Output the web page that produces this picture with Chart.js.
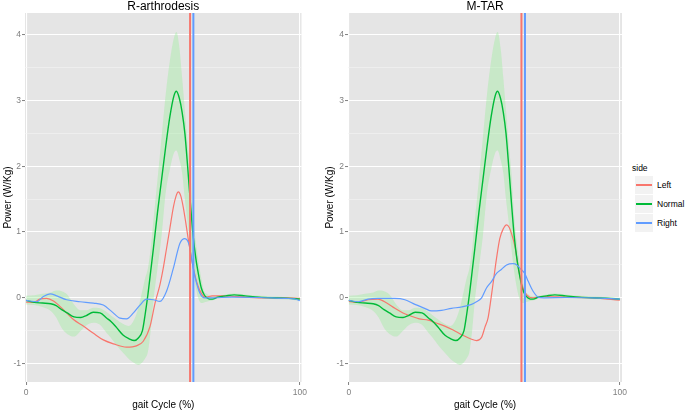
<!DOCTYPE html>
<html>
<head>
<meta charset="utf-8">
<script src="https://cdn.jsdelivr.net/npm/chart.js@4.4.1/dist/chart.umd.min.js"></script>
<style>
  html, body { margin: 0; padding: 0; background: #ffffff; }
  #wrap { position: relative; width: 685px; height: 411px; overflow: hidden; font-family: "Liberation Sans", Arial, sans-serif; }
  canvas { position: absolute; top: 0; }
  #c1 { left: 0; }
  #c2 { left: 318px; }
  .lgTitle { position: absolute; left: 632px; top: 163px; font-size: 8.5px; line-height: 10px; color: #000; }
  .lgKey { position: absolute; left: 635px; width: 18px; height: 18px; background: #F2F2F2; }
  .lgKey span { position: absolute; left: 1px; top: 8px; width: 16px; height: 2px; }
  .lgLab { position: absolute; left: 657px; font-size: 8.5px; line-height: 10px; color: #000; }
</style>
</head>
<body>
<div id="wrap">
  <canvas id="c1" width="310" height="411"></canvas>
  <canvas id="c2" width="312" height="411"></canvas>
  <div id="legend"></div>
</div>
<script>
// ---------- data ----------
const panelTitles = ['R-arthrodesis', 'M-TAR'];
const xAxisTitle = 'gait Cycle (%)';
const yAxisTitle = 'Power (W/Kg)';
const legendTitle = 'side';
const legendLabels = ['Left', 'Normal', 'Right'];
const xTicks = [0, 100];
const yMajorTicks = [-1, 0, 1, 2, 3, 4];
const yMinorTicks = [-0.5, 0.5, 1.5, 2.5, 3.5];
const yAxisMin = -1.28;
const yAxisMax = 4.33;

// Normal (shared by both panels): mean and band
const normalX = [0, 3, 6, 9, 11, 13, 15, 17.5, 20, 22, 24.5, 27, 29.5, 31, 33, 35.5, 37.5, 39.5, 41, 42.5, 43.5, 44.5, 45.5, 46.5, 48, 49.5, 51, 52.5, 54, 54.9, 56, 57, 58, 59, 60, 61, 62, 63, 64, 65, 66, 67, 68, 70, 73, 76, 80, 85, 90, 95, 100];
const normalY = [-0.04, -0.07, -0.08, -0.09, -0.12, -0.18, -0.23, -0.29, -0.30, -0.27, -0.22, -0.23, -0.31, -0.36, -0.45, -0.57, -0.62, -0.65, -0.61, -0.50, -0.25, 0.05, 0.4, 0.75, 1.3, 1.8, 2.3, 2.75, 3.07, 3.14, 3.03, 2.82, 2.5, 2.0, 1.45, 0.95, 0.6, 0.35, 0.15, 0.05, 0.0, -0.02, -0.02, 0.01, 0.03, 0.045, 0.03, 0.01, 0.0, -0.005, -0.02];
const normalUpper = [0.03, 0.04, 0.06, 0.08, 0.11, 0.10, 0.05, -0.10, -0.19, -0.19, -0.15, -0.16, -0.22, -0.27, -0.33, -0.40, -0.43, -0.33, -0.15, 0.12, 0.30, 0.45, 0.75, 1.18, 1.8, 2.45, 3.1, 3.6, 3.95, 4.04, 3.8, 3.35, 2.85, 2.35, 1.9, 1.25, 0.85, 0.55, 0.3, 0.1, 0.06, 0.03, 0.02, 0.03, 0.05, 0.065, 0.05, 0.03, 0.02, 0.01, 0.0];
const normalLower = [-0.10, -0.11, -0.14, -0.20, -0.30, -0.46, -0.55, -0.59, -0.50, -0.42, -0.38, -0.41, -0.54, -0.61, -0.72, -0.84, -0.93, -0.99, -1.02, -0.98, -0.92, -0.82, -0.50, -0.05, 0.45, 0.95, 1.6, 1.95, 2.2, 2.24, 2.1, 1.9, 1.5, 1.15, 0.75, 0.4, 0.15, -0.02, -0.08, -0.07, -0.06, -0.05, -0.04, -0.01, 0.01, 0.025, 0.01, -0.01, -0.02, -0.025, -0.04];

// R-arthrodesis panel
const arthLeftX = [0, 2.7, 5, 7.5, 10, 13.6, 17.3, 20.9, 24.6, 28.2, 31.9, 36.7, 40.3, 42.8, 45.3, 47.1, 48.9, 50.1, 51.3, 52.5, 53.8, 54.8, 55.6, 56.5, 57.4, 58.3, 59.2, 60.5, 62.3, 64.1, 65.5, 68, 72, 76, 80, 85, 90, 95, 100];
const arthLeftY = [-0.065, -0.07, -0.02, -0.01, -0.05, -0.18, -0.33, -0.43, -0.54, -0.64, -0.70, -0.75, -0.73, -0.66, -0.43, -0.08, 0.2, 0.45, 0.75, 1.05, 1.38, 1.55, 1.61, 1.55, 1.38, 1.15, 0.9, 0.58, 0.24, 0.06, 0.01, 0.03, 0.03, 0.02, 0.01, 0.0, 0.0, 0.0, -0.01];
const arthRightX = [0, 3.9, 6.3, 8.8, 11.2, 14.8, 19.7, 24.6, 28.2, 31.3, 34.3, 36.7, 39.2, 41.6, 44, 46.5, 48.9, 51.3, 53.8, 56.2, 58, 59.6, 60.5, 61.7, 63.5, 65.3, 68, 75, 85, 95, 98, 100];
const arthRightY = [-0.04, -0.06, 0.02, 0.06, 0.03, -0.03, -0.06, -0.08, -0.11, -0.21, -0.31, -0.32, -0.23, -0.11, -0.02, -0.03, -0.055, 0.1, 0.45, 0.83, 0.9, 0.8, 0.58, 0.32, 0.07, 0.0, 0.0, 0.01, 0.005, -0.01, -0.015, -0.045];
const arthLeftToeOff = 59.9;
const arthRightToeOff = 61.1;

// M-TAR panel
const mtarLeftX = [0, 3.4, 7.1, 10.8, 14, 17, 20, 23.1, 26, 29.3, 32, 35.4, 38.5, 41.6, 45.3, 47.1, 49, 50.2, 51.4, 52.5, 53.5, 54.5, 55.7, 57, 58.2, 59.2, 60, 61.3, 62.5, 63.7, 65.6, 68, 72, 80, 90, 100];
const mtarLeftY = [-0.055, -0.07, -0.03, -0.02, -0.08, -0.16, -0.23, -0.28, -0.32, -0.34, -0.38, -0.43, -0.49, -0.56, -0.63, -0.65, -0.6, -0.45, -0.3, 0.0, 0.3, 0.6, 0.9, 1.05, 1.11, 1.07, 0.98, 0.78, 0.47, 0.22, 0.045, 0.0, 0.02, 0.01, 0.0, -0.035];
const mtarRightX = [0, 3.4, 7.1, 10.8, 17, 20.7, 24.4, 28, 30.5, 34.2, 37.9, 41.6, 45.3, 47.1, 49, 50.8, 52.7, 54.5, 56.3, 58.2, 60.6, 62, 63.1, 64.9, 66.2, 68, 69.9, 72, 80, 90, 100];
const mtarRightY = [-0.04, -0.06, -0.02, -0.01, -0.01, -0.03, -0.1, -0.16, -0.2, -0.19, -0.16, -0.14, -0.1, -0.06, 0.0, 0.15, 0.25, 0.37, 0.43, 0.5, 0.52, 0.5, 0.45, 0.37, 0.25, 0.1, 0.01, 0.0, 0.005, 0.0, -0.02];
const mtarLeftToeOff = 63.7;
const mtarRightToeOff = 65.0;

// ---------- styles ----------
const FONT = '"Liberation Sans", Arial, sans-serif';
const COL = { Left: '#F8766D', Normal: '#00BA38', Right: '#619CFF' };
const RIBBON = 'rgba(144, 238, 144, 0.34)';
const PANEL_BG = '#E5E5E5';
const TICK_COL = '#7F7F7F';

const pts = (xs, ys) => xs.map((x, i) => ({ x: x, y: ys[i] }));

const panelPlugin = {
  id: 'panelDeco',
  beforeDraw(chart) {
    const { ctx, chartArea: a } = chart;
    ctx.save();
    ctx.fillStyle = PANEL_BG;
    ctx.fillRect(a.left, a.top, a.right - a.left, a.bottom - a.top);
    ctx.restore();
  },
  afterDraw(chart, args, opts) {
    const { ctx, chartArea: a } = chart;
    ctx.save();
    ctx.font = '12px ' + FONT;
    ctx.fillStyle = '#000000';
    ctx.textAlign = 'center';
    ctx.textBaseline = 'middle';
    ctx.fillText(opts.text, (a.left + a.right) / 2, 7);
    ctx.restore();
  }
};

function isMajor(v) { return Number.isInteger(v); }

function makeChart(id, cfg) {
  const vline = (x, color) => ({
    data: [{ x: x, y: yAxisMin }, { x: x, y: yAxisMax }],
    borderColor: color, borderWidth: 2, pointRadius: 0, fill: false,
    tension: 0, cubicInterpolationMode: 'default'
  });
  const line = (label, data, color, w) => ({
    label: label, data: data, borderColor: color, borderWidth: w,
    pointRadius: 0, fill: false, cubicInterpolationMode: 'monotone'
  });
  return new Chart(document.getElementById(id), {
    type: 'line',
    data: {
      datasets: [
        vline(cfg.rightToeOff, COL.Right),
        vline(cfg.leftToeOff, COL.Left),
        line(legendLabels[2], pts(cfg.rightX, cfg.rightY), COL.Right, 1.2),
        line(legendLabels[1], pts(normalX, normalY), COL.Normal, 1.4),
        line(legendLabels[0], pts(cfg.leftX, cfg.leftY), COL.Left, 1.2),
        { label: 'Normal upper', data: pts(normalX, normalUpper), borderColor: 'rgba(0,0,0,0)', borderWidth: 0,
          pointRadius: 0, backgroundColor: RIBBON, fill: '+1', cubicInterpolationMode: 'monotone' },
        { label: 'Normal lower', data: pts(normalX, normalLower), borderColor: 'rgba(0,0,0,0)', borderWidth: 0,
          pointRadius: 0, fill: false, cubicInterpolationMode: 'monotone' }
      ]
    },
    options: {
      responsive: false,
      animation: false,
      devicePixelRatio: 1,
      events: [],
      layout: { padding: { top: 13, right: 8, left: 0, bottom: 0 } },
      plugins: {
        legend: { display: false },
        tooltip: { enabled: false },
        title: { display: false },
        panelDeco: { text: cfg.title }
      },
      scales: {
        x: {
          type: 'linear',
          min: cfg.xMin, max: cfg.xMax,
          afterBuildTicks: s => { s.ticks = xTicks.map(v => ({ value: v })); },
          afterFit: s => { s.height = 29; },
          border: { display: false },
          grid: { color: '#FFFFFF', lineWidth: 1.1, tickLength: 3, tickColor: TICK_COL, tickWidth: 1 },
          ticks: { color: TICK_COL, font: { size: 8.5, family: FONT }, padding: 3, maxRotation: 0, autoSkip: false,
                   callback: v => String(v) },
          title: { display: true, text: xAxisTitle, color: '#000000', font: { size: 10, family: FONT },
                   padding: { top: 0, bottom: 0 } }
        },
        y: {
          type: 'linear',
          min: yAxisMin, max: yAxisMax,
          afterBuildTicks: s => {
            s.ticks = yMajorTicks.concat(yMinorTicks).sort((a, b) => a - b).map(v => ({ value: v }));
          },
          afterFit: s => { s.width = cfg.yWidth; },
          border: { display: false },
          grid: {
            color: c => isMajor(c.tick.value) ? '#FFFFFF' : '#F3F3F3',
            lineWidth: c => isMajor(c.tick.value) ? 1.1 : 0.6,
            tickLength: 3,
            tickWidth: 1,
            tickColor: c => isMajor(c.tick.value) ? TICK_COL : 'rgba(0,0,0,0)'
          },
          ticks: { color: TICK_COL, font: { size: 8.5, family: FONT }, padding: 1, autoSkip: false,
                   callback: v => isMajor(v) ? String(v) : '' },
          title: { display: true, text: yAxisTitle, color: '#000000', font: { size: 10, family: FONT },
                   padding: { top: cfg.yTitlePad, bottom: 0 } }
        }
      }
    },
    plugins: [panelPlugin]
  });
}

makeChart('c1', {
  title: panelTitles[0],
  leftX: arthLeftX, leftY: arthLeftY, rightX: arthRightX, rightY: arthRightY,
  leftToeOff: arthLeftToeOff, rightToeOff: arthRightToeOff,
  xMin: -0.4, xMax: 100.6, yWidth: 25, yTitlePad: 2
});
makeChart('c2', {
  title: panelTitles[1],
  leftX: mtarLeftX, leftY: mtarLeftY, rightX: mtarRightX, rightY: mtarRightY,
  leftToeOff: mtarLeftToeOff, rightToeOff: mtarRightToeOff,
  xMin: -0.3, xMax: 100.8, yWidth: 30, yTitlePad: 6
});

// ---------- legend ----------
(function buildLegend() {
  const lg = document.getElementById('legend');
  const t = document.createElement('div');
  t.className = 'lgTitle';
  t.textContent = legendTitle;
  lg.appendChild(t);
  const keyTops = [176, 195, 214];
  legendLabels.forEach((name, i) => {
    const k = document.createElement('div');
    k.className = 'lgKey';
    k.style.top = keyTops[i] + 'px';
    const s = document.createElement('span');
    s.style.background = COL[name];
    k.appendChild(s);
    lg.appendChild(k);
    const l = document.createElement('div');
    l.className = 'lgLab';
    l.style.top = (keyTops[i] + 4) + 'px';
    l.textContent = name;
    lg.appendChild(l);
  });
})();
</script>
</body>
</html>
